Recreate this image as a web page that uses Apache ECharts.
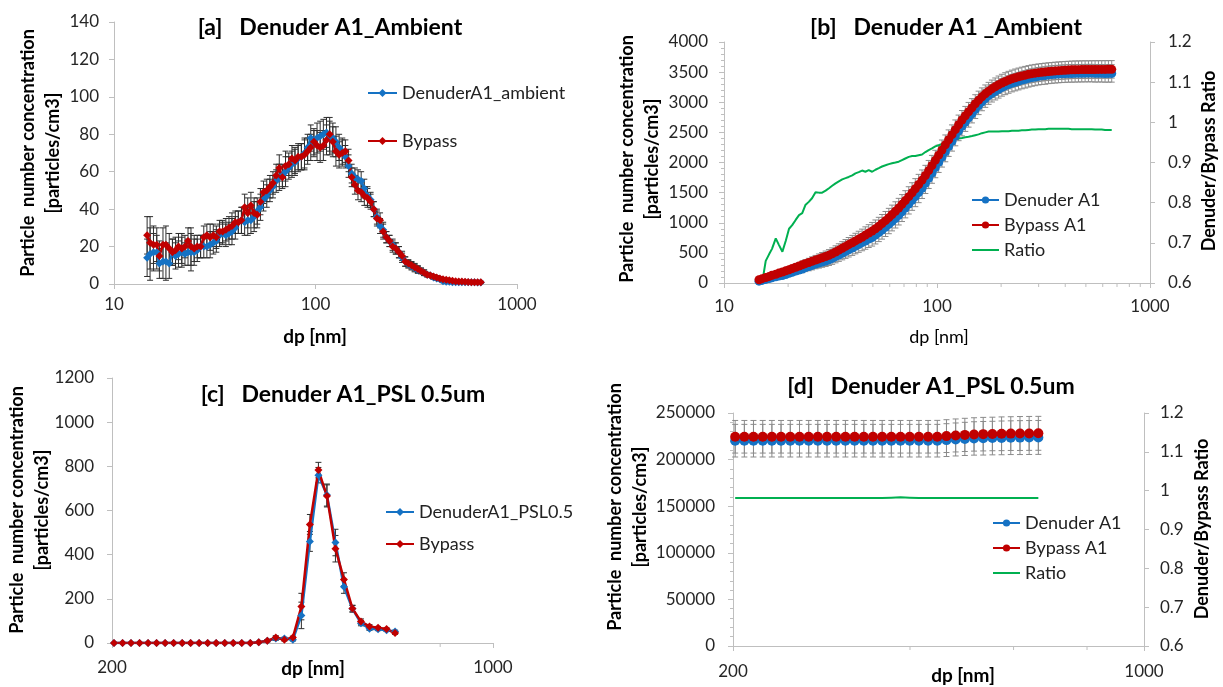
<!DOCTYPE html>
<html><head><meta charset="utf-8">
<script src="https://cdn.jsdelivr.net/npm/echarts@6/dist/echarts.min.js"></script>
<style>html,body{margin:0;padding:0;background:#fff}#c{width:1223px;height:687px}</style>
</head><body><div id="c"></div>
<script>
// ---------- data ----------
const dpAmb = [14.6,15.1,15.7,16.3,16.8,17.5,18.1,18.8,19.5,20.2,
20.9,21.7,22.5,23.3,24.1,25.0,25.9,26.9,27.9,28.9,
30.0,31.1,32.2,33.4,34.6,35.9,37.2,38.5,40.0,41.4,
42.9,44.5,46.1,47.8,49.6,51.4,53.3,55.2,57.3,59.4,
61.5,63.8,66.1,68.5,71.0,73.7,76.4,79.1,82.0,85.1,
88.2,91.4,94.7,98.2,101.8,105.5,109.4,113.4,117.6,121.9,
126.3,131.0,135.8,140.7,145.9,151.2,156.8,162.5,168.5,174.7,
181.1,187.7,194.6,201.7,209.1,216.7,224.7,232.9,241.4,250.3,
259.5,269.0,278.8,289.0,299.6,310.6,322.0,333.8,346.0,358.7,
371.8,385.4,399.5,414.2,429.4,445.1,461.4,478.3,495.8,514.0,
532.8,552.3,572.5,593.5,615.3,637.8,661.2];

const aDenuder = [14,16,17,17,11,12,12,11,17,15,
16,17,16,17,17,17,18,20,20,20,
21,22,23,26,27,26,27,28,30,33,
34,33,34,34,36,39,41,45,47,50,
52,55,57,58,60,62,64,65,67,68,
70,73,78,75,78,79,80,81,78,78,
76,73,71,68,63,59,57,56,55,51,
47,45,40,36,31,29,25,23,21,19,
17,14,12,10.5,9.5,8.5,7.5,7,6,5,
4.5,3.5,3,2.5,1.5,1.2,1.2,1,1,1,
1,1,1,0.9,0.9,0.8,0.8];
const aBypass = [26,22,21,21,15,21,21,19,17,18,
20,19,20,23,20,19,20,20,25,26,
25,26,25,28,28,29,30,31,33,33,
34,41,38,42,38,37,44,49,50,52,
54,58,62,57,63,64,67,66,68,68,
69,71,73,76,74,73,74,77,80,76,
71,69,70,71,66,57,53,50,49,47,
46,44,40,35,34,28,25,23,20,19,
17,15,12,11,10,9,8,7,6,5,
4.5,4,3.5,3,2.6,2.3,2,1.8,1.5,1.4,
1.3,1.2,1.1,1,0.9,0.9,1];
const aErr = [10,14,10,9,8,9,10,8,7,7,
7,8,6,7,10,7,6,6,6,6,
7,6,6,6,6,6,6,7,6,6,
7,7,8,7,8,7,7,6,6,6,
6,6,7,6,8,6,7,7,7,7,
8,7,7,7,8,8,8,8,9,8,
8,7,7,6,6,5,5,5,5,5,
5,4,4,4,4,4,3,3,3,3,
3,2.5,2.5,2,2,2,1.8,1.5,1.5,1.2,
1,1,1,0.8,0.8,0.8,0.7,0.6,0.6,0.5,
0.5,0.5,0.5,0.5,0.5,0.5,0.5];

const bDenuder = [30,43,60,73,88,104,115,124,142,162,
179,198,216,233,255,273,292,314,330,347,
365,385,408,437,465,494,523,550,580,610,
639,669,697,729,756,794,835,878,924,972,
1021,1071,1123,1182,1245,1310,1372,1434,1501,1571,
1653,1737,1823,1914,2001,2089,2176,2264,2351,2438,
2522,2600,2672,2741,2809,2880,2944,3007,3062,3111,
3149,3183,3214,3246,3271,3294,3317,3334,3350,3368,
3381,3397,3411,3420,3432,3439,3444,3454,3459,3464,
3468,3472,3475,3478,3478,3480,3481,3482,3483,3483,
3484,3480,3481,3481,3478,3479,3479];
const bBypass = [54,72,91,109,128,146,165,183,202,220,
241,261,281,301,321,340,360,380,400,420,
440,460,485,515,545,576,607,637,668,699,
729,760,795,828,862,900,942,987,1035,1085,
1137,1190,1245,1305,1368,1433,1498,1565,1635,1708,
1785,1866,1950,2036,2122,2208,2293,2378,2462,2545,
2627,2705,2775,2843,2908,2975,3035,3090,3140,3184,
3223,3258,3290,3319,3345,3368,3388,3406,3422,3437,
3450,3463,3474,3483,3491,3498,3504,3510,3515,3520,
3524,3528,3532,3535,3538,3540,3541,3542,3543,3543,
3544,3544,3545,3545,3545,3546,3546];
const bRatio = [0.56,0.60,0.655,0.672,0.685,0.711,0.695,0.678,0.705,0.735,
0.744,0.757,0.769,0.774,0.794,0.802,0.811,0.826,0.825,0.825,
0.83,0.836,0.842,0.848,0.853,0.858,0.861,0.864,0.868,0.873,
0.876,0.88,0.877,0.881,0.877,0.882,0.886,0.89,0.893,0.896,
0.898,0.9,0.902,0.906,0.91,0.914,0.916,0.916,0.918,0.92,
0.926,0.931,0.935,0.94,0.943,0.946,0.949,0.952,0.955,0.958,
0.96,0.961,0.963,0.964,0.966,0.968,0.97,0.973,0.975,0.977,
0.977,0.977,0.977,0.978,0.978,0.978,0.979,0.979,0.979,0.98,
0.98,0.981,0.982,0.982,0.983,0.983,0.983,0.984,0.984,0.984,
0.984,0.984,0.984,0.984,0.983,0.983,0.983,0.983,0.983,0.983,
0.983,0.982,0.982,0.982,0.981,0.981,0.981];
const bErr = [20,22,25,28,31,34,37,40,43,46,
50,54,58,62,66,70,74,78,82,86,
90,94,98,102,106,110,114,118,122,126,
130,134,137,140,143,146,148,150,152,154,
156,158,160,162,164,165,166,167,168,168,
168,168,168,167,166,165,164,163,162,161,
160,158,156,154,152,150,149,148,147,146,
145,145,145,145,145,145,145,145,145,145,
145,145,145,145,145,145,145,145,145,145,
145,145,145,145,145,145,145,145,145,145,
145,145,145,145,145,145,145];

const dpPSL = [201.7,209.1,216.7,224.7,232.9,241.4,250.3,259.5,269.0,278.8,
289.0,299.6,310.6,322.0,333.8,346.0,358.7,371.8,385.4,399.5,
414.2,429.4,445.1,461.4,478.3,495.8,514.0,532.8,552.3,572.5,
593.5,615.3,637.8,661.2];
const cDenuder = [0,0,0,0,0,0,0,0,0,0,0,0,0,0,0,0,0,
3,10,20,20,15,125,460,760,670,455,255,155,90,65,62,58,52];
const cBypass = [0,0,0,0,0,0,0,0,0,0,0,0,0,0,0,0,0,
3,10,25,15,25,165,537,783,666,427,288,156,97,75,69,63,45];
const cErr = [0,0,0,0,0,0,0,0,0,0,0,0,0,0,0,0,0,
2,5,8,6,6,60,45,35,50,60,30,15,12,8,6,6,6];

const dDenuder = [220300,220300,220300,220300,220300,220300,220300,220300,220300,220300,
220300,220300,220300,220300,220300,220300,220300,220300,220300,220300,
220300,220300,220300,220900,221600,222200,222700,222900,223100,223300,
223500,223600,223700,223800];
const dBypass = [224500,224500,224500,224500,224500,224500,224500,224500,224500,224500,
224500,224500,224500,224500,224500,224500,224500,224500,224500,224500,
224500,224500,224600,225200,225900,226500,227000,227300,227500,227700,
227900,228000,228100,228200];
const dRatio = [0.981,0.981,0.981,0.981,0.981,0.981,0.981,0.981,0.981,0.981,
0.981,0.981,0.981,0.981,0.981,0.981,0.981,0.982,0.983,0.982,
0.981,0.981,0.981,0.981,0.981,0.981,0.981,0.981,0.981,0.981,
0.981,0.981,0.981,0.981];
const dErr = [17500,17500,17500,17500,17500,17500,17500,17500,17500,17500,
17500,17500,17500,17500,17500,17500,17500,17500,17500,17500,
17500,17500,17500,17600,17700,17800,17900,18000,18000,18100,
18100,18200,18200,18200];

const bMinorX = [20,30,40,50,60,70,80,90,200,300,400,500,600,700,800,900];
const cMinorX = [800];
const dMinorX = [400,600,800];

// ---------- helpers ----------
const BLUE = '#1572c4', RED = '#c00000', GREEN = '#00b050';
const FONT = 'Lato';
const pair = (xs, ys) => xs.map((x, i) => [x, ys[i]]);
const errData = (xs, ys, es) => xs.map((x, i) => [x, ys[i] - es[i], ys[i] + es[i]]);

function errSeries(xi, yi, data, color, cap) {
  return {
    type: 'custom', xAxisIndex: xi, yAxisIndex: yi, silent: true,
    data: data, encode: {x: 0, y: [1, 2]},
    renderItem: function (params, api) {
      const x = api.value(0), lo = api.value(1), hi = api.value(2);
      if (hi - lo <= 0) return null;
      const p1 = api.coord([x, hi]), p2 = api.coord([x, lo]);
      const st = {stroke: color, lineWidth: 1};
      return {type: 'group', children: [
        {type: 'line', shape: {x1: p1[0], y1: p1[1], x2: p2[0], y2: p2[1]}, style: st},
        {type: 'line', shape: {x1: p1[0] - cap, y1: p1[1], x2: p1[0] + cap, y2: p1[1]}, style: st},
        {type: 'line', shape: {x1: p2[0] - cap, y1: p2[1], x2: p2[0] + cap, y2: p2[1]}, style: st}
      ]};
    }
  };
}
function minorTickSeries(xi, yi, xs, yBase) {
  return {
    type: 'custom', xAxisIndex: xi, yAxisIndex: yi, silent: true,
    data: xs.map(v => [v, yBase]),
    renderItem: function (params, api) {
      const p = api.coord([api.value(0), api.value(1)]);
      return {type: 'line', shape: {x1: p[0], y1: p[1], x2: p[0], y2: p[1] + 4},
        style: {stroke: '#bfbfbf', lineWidth: 1}};
    }
  };
}
function lineSeries(name, xi, yi, data, color, symbol, size, width) {
  return {
    type: 'line', name: name, xAxisIndex: xi, yAxisIndex: yi, data: data,
    symbol: symbol, symbolSize: size, showSymbol: symbol !== 'none',
    lineStyle: {color: color, width: width}, itemStyle: {color: color},
    emphasis: {disabled: true}, animation: false
  };
}
const axisBase = {
  axisLine: {show: true, lineStyle: {color: '#bfbfbf', width: 1}},
  axisTick: {show: true, length: 5, lineStyle: {color: '#bfbfbf'}},
  splitLine: {show: false},
  axisLabel: {color: '#262626', fontSize: 17, fontFamily: FONT}
};
function xLog(gi, min, max, margin) {
  return Object.assign({}, axisBase, {
    type: 'log', logBase: 10, gridIndex: gi, min: min, max: max,
    axisLabel: Object.assign({}, axisBase.axisLabel, {margin: margin,
      formatter: v => String(Math.round(v))})
  });
}
function yVal(gi, min, max, interval, margin, pos, minor, fmt) {
  const o = Object.assign({}, axisBase, {
    type: 'value', gridIndex: gi, min: min, max: max, interval: interval, position: pos,
    axisLabel: Object.assign({}, axisBase.axisLabel, {margin: margin, formatter: fmt})
  });
  if (minor) o.minorTick = {show: true, splitNumber: 5, length: 3, lineStyle: {color: '#bfbfbf'}};
  return o;
}
const fmtInt = v => String(Math.round(v));
const fmtRatio = v => String(+v.toFixed(1));

function txt(x, y, text, font, rot, extra) {
  return {
    type: 'text', x: x, y: y, rotation: rot || 0, silent: true,
    style: Object.assign({text: text, font: font, fill: '#000', align: 'center', verticalAlign: 'middle'}, extra || {})
  };
}
const yTitle = 'Particle  number concentration\n[particles/cm3]';
const TB = 'bold 23px ' + FONT, AB = 'bold 18px ' + FONT, AR = '18px ' + FONT, XB = 'bold 19px ' + FONT;

const legendBase = {
  orient: 'vertical', selectedMode: false, itemWidth: 28, itemHeight: 9, padding: 0,
  textStyle: {fontSize: 18, fontFamily: FONT, color: '#222', lineHeight: 20}
};
const noMark = {itemStyle: {opacity: 0}};

const option = {
  animation: false,
  textStyle: {fontFamily: FONT},
  grid: [
    {left: 114, top: 22, width: 403, height: 262},
    {left: 724, top: 42, width: 426, height: 241},
    {left: 112, top: 378, width: 381, height: 265},
    {left: 733, top: 413, width: 411, height: 233}
  ],
  xAxis: [
    xLog(0, 10, 1000, 12),
    xLog(1, 10, 1000, 15),
    xLog(2, 200, 1000, 16),
    xLog(3, 200, 1000, 17)
  ],
  yAxis: [
    yVal(0, 0, 140, 20, 15, 'left', false, fmtInt),
    yVal(1, 0, 4000, 500, 16, 'left', true, fmtInt),
    yVal(1, 0.6, 1.2, 0.1, 18, 'right', false, fmtRatio),
    yVal(2, 0, 1200, 200, 18, 'left', false, fmtInt),
    yVal(3, 0, 250000, 50000, 18, 'left', true, fmtInt),
    yVal(3, 0.6, 1.2, 0.1, 16, 'right', false, fmtRatio)
  ],
  legend: [
    Object.assign({}, legendBase, {data: ['DenuderA1_ambient', 'Bypass'], left: 367, top: 83, itemGap: 28, itemWidth: 29, itemHeight: 10}),
    Object.assign({}, legendBase, {data: ['Denuder A1', 'Bypass A1', Object.assign({name: 'Ratio'}, noMark)], left: 971, top: 190, itemGap: 5, itemWidth: 27}),
    Object.assign({}, legendBase, {data: ['DenuderA1_PSL0.5', 'Bypass '], left: 385, top: 502, itemGap: 12, itemWidth: 28, itemHeight: 10}),
    Object.assign({}, legendBase, {data: ['Denuder A1 ', 'Bypass A1 ', Object.assign({name: 'Ratio '}, noMark)], left: 992, top: 513, itemGap: 5, itemWidth: 27})
  ],
  series: [
    // panel a
    lineSeries('DenuderA1_ambient', 0, 0, pair(dpAmb, aDenuder), BLUE, 'diamond', 8, 2.5),
    errSeries(0, 0, errData(dpAmb, aDenuder, aErr), '#2e2e2e', 3),
    lineSeries('Bypass', 0, 0, pair(dpAmb, aBypass), RED, 'diamond', 8, 2.5),
    errSeries(0, 0, errData(dpAmb, aBypass, aErr), '#2e2e2e', 3),
    // panel b
    errSeries(1, 1, errData(dpAmb, bDenuder, bErr), '#8a8a8a', 3),
    errSeries(1, 1, errData(dpAmb, bBypass, bErr), '#8a8a8a', 3),
    lineSeries('Denuder A1', 1, 1, pair(dpAmb, bDenuder), BLUE, 'circle', 9, 2),
    lineSeries('Bypass A1', 1, 1, pair(dpAmb, bBypass), RED, 'circle', 9, 2),
    lineSeries('Ratio', 1, 2, pair(dpAmb, bRatio), GREEN, 'none', 0, 2),
    minorTickSeries(1, 1, bMinorX, 0),
    // panel c
    errSeries(2, 3, errData(dpPSL, cDenuder, cErr), '#2e2e2e', 3),
    errSeries(2, 3, errData(dpPSL, cBypass, cErr), '#2e2e2e', 3),
    lineSeries('DenuderA1_PSL0.5', 2, 3, pair(dpPSL, cDenuder), BLUE, 'diamond', 8, 2.5),
    lineSeries('Bypass ', 2, 3, pair(dpPSL, cBypass), RED, 'diamond', 8, 2.5),
    minorTickSeries(2, 3, cMinorX, 0),
    // panel d
    errSeries(3, 4, errData(dpPSL, dDenuder, dErr), '#8a8a8a', 3),
    errSeries(3, 4, errData(dpPSL, dBypass, dErr), '#8a8a8a', 3),
    lineSeries('Denuder A1 ', 3, 4, pair(dpPSL, dDenuder), BLUE, 'circle', 10, 2),
    lineSeries('Bypass A1 ', 3, 4, pair(dpPSL, dBypass), RED, 'circle', 10, 2),
    lineSeries('Ratio ', 3, 5, pair(dpPSL, dRatio), GREEN, 'none', 0, 2),
    minorTickSeries(3, 4, dMinorX, 0)
  ],
  graphic: [
    txt(330, 28, '[a]   Denuder A1_Ambient', TB),
    txt(946, 28, '[b]   Denuder A1 _Ambient', TB),
    txt(343, 395, '[c]   Denuder A1_PSL 0.5um', TB),
    txt(931, 387, '[d]   Denuder A1_PSL 0.5um', TB),
    txt(41, 153, yTitle, AB, Math.PI / 2, {lineHeight: 25}),
    txt(640, 159, yTitle, AB, Math.PI / 2, {lineHeight: 25}),
    txt(1209, 161, 'Denuder/Bypass Ratio', AB, Math.PI / 2),
    txt(30, 510, yTitle, AB, Math.PI / 2, {lineHeight: 25}),
    txt(628, 507, yTitle, AB, Math.PI / 2, {lineHeight: 25}),
    txt(1202, 529, 'Denuder/Bypass Ratio', AB, Math.PI / 2),
    txt(315, 337, 'dp [nm]', XB),
    txt(939, 337, 'dp [nm]', AR),
    txt(313, 669, 'dp [nm]', XB),
    txt(963, 676, 'dp [nm]', XB)
  ]
};
const chart = echarts.init(document.getElementById('c'), null, {renderer: 'canvas'});
chart.setOption(option);
</script>
</body></html>
